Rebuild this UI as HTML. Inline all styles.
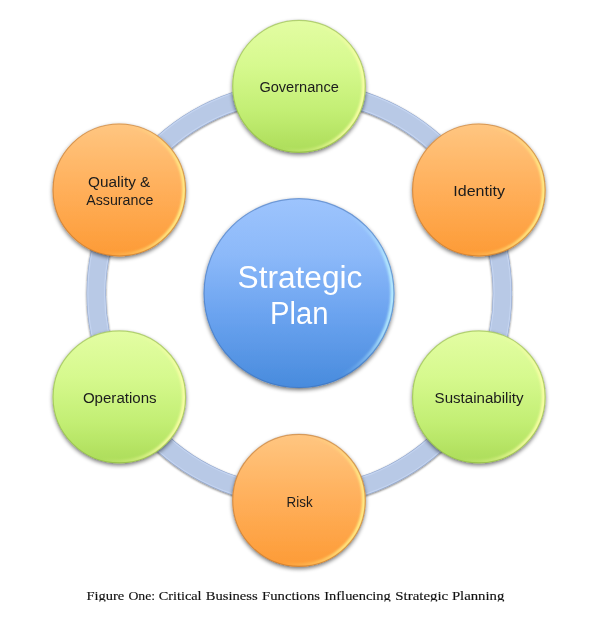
<!DOCTYPE html>
<html>
<head>
<meta charset="utf-8">
<title>Figure One: Critical Business Functions Influencing Strategic Planning</title>
<style>
  html, body { margin: 0; padding: 0; background: #ffffff; }
  body { width: 600px; height: 624px; overflow: hidden; font-family: "Liberation Sans", sans-serif; }
  svg { display: block; position: absolute; left: 0; top: 0; }
  .lbl { font-family: "Liberation Sans", sans-serif; font-size: 15.2px; fill: #1c1c1c; }
  .big { font-family: "Liberation Sans", sans-serif; font-size: 31px; fill: #ffffff; }
  .cap { font-family: "Liberation Serif", serif; font-size: 13.1px; fill: #111111; stroke: #111111; stroke-width: 0.15px; }
</style>
</head>
<body>
<svg width="600" height="624" viewBox="0 0 600 624">
  <defs>
    <linearGradient id="gBlue" x1="0" y1="0" x2="0" y2="1">
      <stop offset="0" stop-color="#9dc4fd"/>
      <stop offset="0.3" stop-color="#8cb9f9"/>
      <stop offset="0.6" stop-color="#6ca4f0"/>
      <stop offset="1" stop-color="#488bdd"/>
    </linearGradient>
    <linearGradient id="gGreen" x1="0" y1="0" x2="0" y2="1">
      <stop offset="0" stop-color="#e3fda3"/>
      <stop offset="0.35" stop-color="#d6f98e"/>
      <stop offset="0.7" stop-color="#c2ee73"/>
      <stop offset="1" stop-color="#acdc59"/>
    </linearGradient>
    <linearGradient id="gOrange" x1="0" y1="0" x2="0" y2="1">
      <stop offset="0" stop-color="#ffc681"/>
      <stop offset="0.5" stop-color="#ffaf5a"/>
      <stop offset="1" stop-color="#fd9b36"/>
    </linearGradient>

    <!-- rim highlight: radial gradient centred near right-most point of each circle -->
    <radialGradient id="rBlue" cx="0.99" cy="0.52" r="0.5" fx="0.99" fy="0.52">
      <stop offset="0" stop-color="#b8eeff" stop-opacity="1"/>
      <stop offset="0.4" stop-color="#b8eeff" stop-opacity="0.85"/>
      <stop offset="0.75" stop-color="#b8eeff" stop-opacity="0.3"/>
      <stop offset="1" stop-color="#b8eeff" stop-opacity="0"/>
    </radialGradient>
    <radialGradient id="rGreen" cx="0.97" cy="0.6" r="0.72" fx="0.97" fy="0.6">
      <stop offset="0" stop-color="#fcffa8" stop-opacity="1"/>
      <stop offset="0.4" stop-color="#fcffa8" stop-opacity="0.85"/>
      <stop offset="0.75" stop-color="#fcffa8" stop-opacity="0.3"/>
      <stop offset="1" stop-color="#fcffa8" stop-opacity="0"/>
    </radialGradient>
    <radialGradient id="rOrange" cx="0.97" cy="0.6" r="0.72" fx="0.97" fy="0.6">
      <stop offset="0" stop-color="#fff28a" stop-opacity="1"/>
      <stop offset="0.4" stop-color="#fff28a" stop-opacity="0.85"/>
      <stop offset="0.75" stop-color="#fff28a" stop-opacity="0.3"/>
      <stop offset="1" stop-color="#fff28a" stop-opacity="0"/>
    </radialGradient>

    <filter id="sh" x="-20%" y="-20%" width="140%" height="140%">
      <feGaussianBlur in="SourceAlpha" stdDeviation="2.2"/>
      <feOffset dx="0" dy="2.2" result="o"/>
      <feComponentTransfer><feFuncA type="linear" slope="0.55"/></feComponentTransfer>
      <feMerge><feMergeNode/><feMergeNode in="SourceGraphic"/></feMerge>
    </filter>
    <filter id="hlBlur" x="-5%" y="-5%" width="110%" height="110%">
      <feGaussianBlur stdDeviation="0.8"/>
    </filter>
    <filter id="shRing" x="-10%" y="-10%" width="120%" height="120%">
      <feGaussianBlur in="SourceAlpha" stdDeviation="1.0"/>
      <feOffset dx="0" dy="1.4" result="o"/>
      <feComponentTransfer><feFuncA type="linear" slope="0.55"/></feComponentTransfer>
      <feMerge><feMergeNode/><feMergeNode in="SourceGraphic"/></feMerge>
    </filter>
  </defs>

  <rect x="0" y="0" width="600" height="624" fill="#ffffff"/>

  <!-- connecting ring -->
  <g filter="url(#shRing)">
    <ellipse cx="299.35" cy="293.6" rx="203.1" ry="202.6" fill="none" stroke="#93a8cf" stroke-width="19.3"/>
    <ellipse cx="299.35" cy="293.6" rx="203.1" ry="202.6" fill="none" stroke="#c4d4f0" stroke-width="18.2"/>
    <ellipse cx="299.35" cy="293.6" rx="203.1" ry="202.6" fill="none" stroke="#b8c9e6" stroke-width="15.6"/>
  </g>

  <!-- outer circles -->
  <g filter="url(#sh)">
    <ellipse cx="299.0" cy="86.35" rx="66.7" ry="66.4" fill="url(#gGreen)"/>
  </g>
  <clipPath id="cp1"><ellipse cx="299.0" cy="86.35" rx="66.7" ry="66.4"/></clipPath>
  <g clip-path="url(#cp1)">
    <ellipse cx="299.0" cy="86.35" rx="64.8" ry="64.5" fill="none" stroke="url(#rGreen)" stroke-width="3.4" filter="url(#hlBlur)"/>
  </g>
  <ellipse cx="299.0" cy="86.35" rx="66.3" ry="66.0" fill="none" stroke="#7fa63a" stroke-opacity="0.5" stroke-width="1.2"/>

  <g filter="url(#sh)">
    <ellipse cx="478.85" cy="190.0" rx="66.7" ry="66.4" fill="url(#gOrange)"/>
  </g>
  <clipPath id="cp2"><ellipse cx="478.85" cy="190.0" rx="66.7" ry="66.4"/></clipPath>
  <g clip-path="url(#cp2)">
    <ellipse cx="478.85" cy="190.0" rx="64.8" ry="64.5" fill="none" stroke="url(#rOrange)" stroke-width="3.4" filter="url(#hlBlur)"/>
  </g>
  <ellipse cx="478.85" cy="190.0" rx="66.3" ry="66.0" fill="none" stroke="#b06a28" stroke-opacity="0.5" stroke-width="1.2"/>

  <g filter="url(#sh)">
    <ellipse cx="478.85" cy="396.9" rx="66.7" ry="66.4" fill="url(#gGreen)"/>
  </g>
  <clipPath id="cp3"><ellipse cx="478.85" cy="396.9" rx="66.7" ry="66.4"/></clipPath>
  <g clip-path="url(#cp3)">
    <ellipse cx="478.85" cy="396.9" rx="64.8" ry="64.5" fill="none" stroke="url(#rGreen)" stroke-width="3.4" filter="url(#hlBlur)"/>
  </g>
  <ellipse cx="478.85" cy="396.9" rx="66.3" ry="66.0" fill="none" stroke="#7fa63a" stroke-opacity="0.5" stroke-width="1.2"/>

  <g filter="url(#sh)">
    <ellipse cx="299.0" cy="500.4" rx="66.7" ry="66.4" fill="url(#gOrange)"/>
  </g>
  <clipPath id="cp4"><ellipse cx="299.0" cy="500.4" rx="66.7" ry="66.4"/></clipPath>
  <g clip-path="url(#cp4)">
    <ellipse cx="299.0" cy="500.4" rx="64.8" ry="64.5" fill="none" stroke="url(#rOrange)" stroke-width="3.4" filter="url(#hlBlur)"/>
  </g>
  <ellipse cx="299.0" cy="500.4" rx="66.3" ry="66.0" fill="none" stroke="#b06a28" stroke-opacity="0.5" stroke-width="1.2"/>

  <g filter="url(#sh)">
    <ellipse cx="119.3" cy="396.9" rx="66.7" ry="66.4" fill="url(#gGreen)"/>
  </g>
  <clipPath id="cp5"><ellipse cx="119.3" cy="396.9" rx="66.7" ry="66.4"/></clipPath>
  <g clip-path="url(#cp5)">
    <ellipse cx="119.3" cy="396.9" rx="64.8" ry="64.5" fill="none" stroke="url(#rGreen)" stroke-width="3.4" filter="url(#hlBlur)"/>
  </g>
  <ellipse cx="119.3" cy="396.9" rx="66.3" ry="66.0" fill="none" stroke="#7fa63a" stroke-opacity="0.5" stroke-width="1.2"/>

  <g filter="url(#sh)">
    <ellipse cx="119.3" cy="190.0" rx="66.7" ry="66.4" fill="url(#gOrange)"/>
  </g>
  <clipPath id="cp6"><ellipse cx="119.3" cy="190.0" rx="66.7" ry="66.4"/></clipPath>
  <g clip-path="url(#cp6)">
    <ellipse cx="119.3" cy="190.0" rx="64.8" ry="64.5" fill="none" stroke="url(#rOrange)" stroke-width="3.4" filter="url(#hlBlur)"/>
  </g>
  <ellipse cx="119.3" cy="190.0" rx="66.3" ry="66.0" fill="none" stroke="#b06a28" stroke-opacity="0.5" stroke-width="1.2"/>

  <!-- center circle -->
  <g filter="url(#sh)">
    <ellipse cx="299.0" cy="293.2" rx="95.4" ry="94.9" fill="url(#gBlue)"/>
  </g>
  <clipPath id="cp7"><ellipse cx="299.0" cy="293.2" rx="95.4" ry="94.9"/></clipPath>
  <g clip-path="url(#cp7)">
    <ellipse cx="299.0" cy="293.2" rx="93.5" ry="93.0" fill="none" stroke="url(#rBlue)" stroke-width="3.8" filter="url(#hlBlur)"/>
  </g>
  <ellipse cx="299.0" cy="293.2" rx="95.0" ry="94.5" fill="none" stroke="#3c6cb0" stroke-opacity="0.5" stroke-width="1.2"/>

  <!-- labels -->
  <g opacity="0.999">
  <text class="lbl" x="259.4" y="92.3" textLength="79.4" lengthAdjust="spacingAndGlyphs">Governance</text>
  <text class="lbl" x="453.3" y="195.6" textLength="51.7" lengthAdjust="spacingAndGlyphs">Identity</text>
  <text class="lbl" x="434.6" y="402.9" textLength="88.9" lengthAdjust="spacingAndGlyphs">Sustainability</text>
  <text class="lbl" x="286.6" y="506.6" textLength="26" lengthAdjust="spacingAndGlyphs">Risk</text>
  <text class="lbl" x="82.9" y="403" textLength="73.7" lengthAdjust="spacingAndGlyphs">Operations</text>
  <text class="lbl" x="88.1" y="187" textLength="62.2" lengthAdjust="spacingAndGlyphs">Quality &amp;</text>
  <text class="lbl" x="86.2" y="205" textLength="67.3" lengthAdjust="spacingAndGlyphs">Assurance</text>

  <text class="big" x="237.6" y="287.5" textLength="124.8" lengthAdjust="spacingAndGlyphs">Strategic</text>
  <text class="big" x="270" y="324.3" textLength="58.4" lengthAdjust="spacingAndGlyphs">Plan</text>
  </g>

  <!-- caption (descenders clipped in original) -->
  <clipPath id="capClip"><rect x="0" y="585" width="600" height="16.6"/></clipPath>
  <g clip-path="url(#capClip)" opacity="0.999">
    <text class="cap" x="86.4" y="600.3" textLength="37.9" lengthAdjust="spacingAndGlyphs">Figure</text>
    <text class="cap" x="128.4" y="600.3" textLength="26.7" lengthAdjust="spacingAndGlyphs">One:</text>
    <text class="cap" x="158.7" y="600.3" textLength="42.9" lengthAdjust="spacingAndGlyphs">Critical</text>
    <text class="cap" x="205.7" y="600.3" textLength="51.9" lengthAdjust="spacingAndGlyphs">Business</text>
    <text class="cap" x="262.1" y="600.3" textLength="57.9" lengthAdjust="spacingAndGlyphs">Functions</text>
    <text class="cap" x="324.3" y="600.3" textLength="66.5" lengthAdjust="spacingAndGlyphs">Influencing</text>
    <text class="cap" x="395.3" y="600.3" textLength="52.9" lengthAdjust="spacingAndGlyphs">Strategic</text>
    <text class="cap" x="451.9" y="600.3" textLength="52.4" lengthAdjust="spacingAndGlyphs">Planning</text>
  </g>
</svg>
</body>
</html>
